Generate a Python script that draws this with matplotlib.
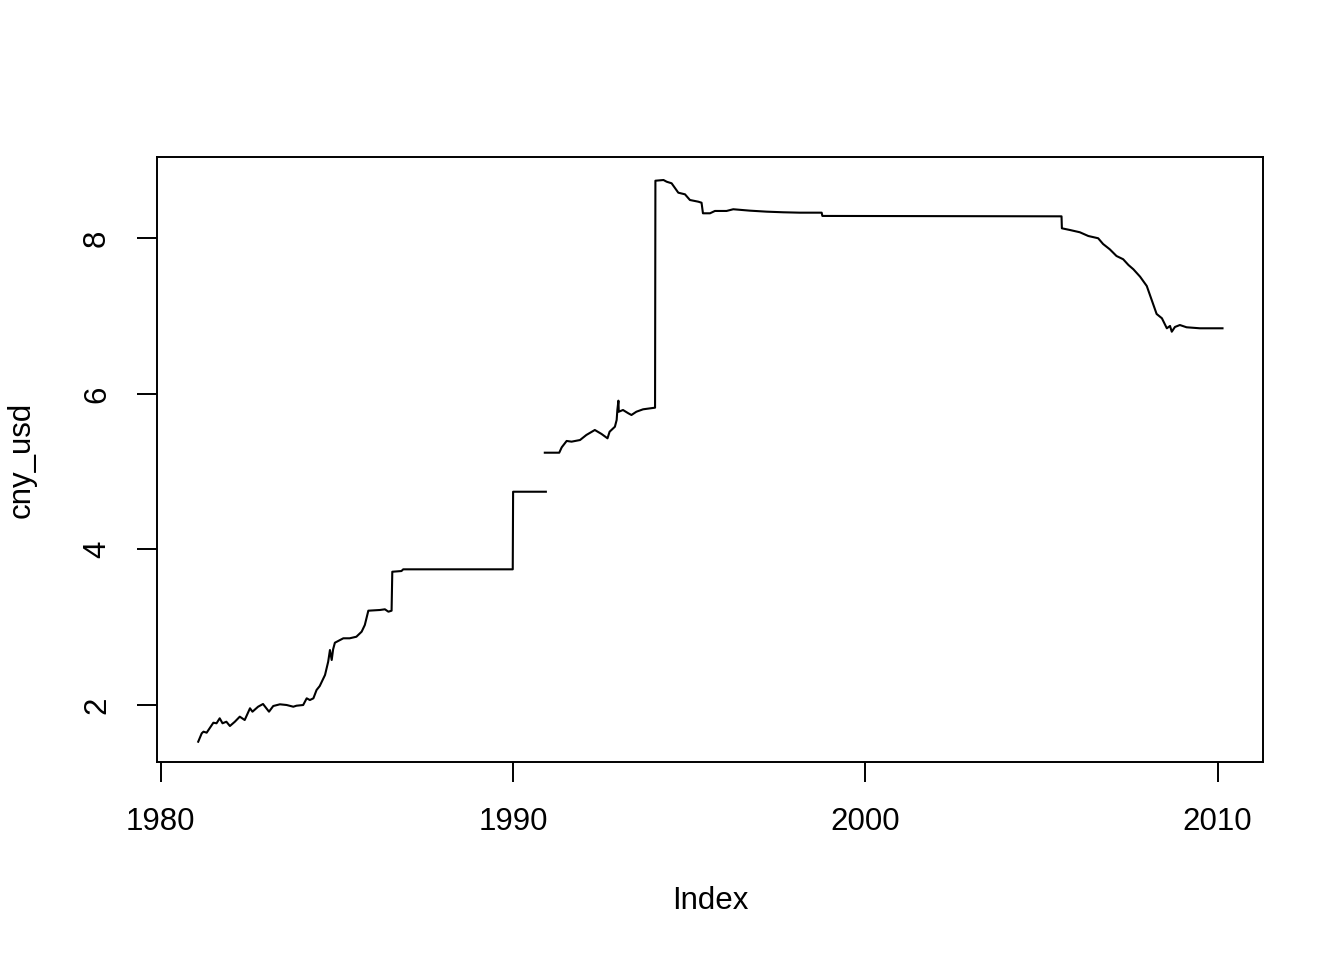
import numpy as np
import matplotlib
matplotlib.use("Agg")
import matplotlib.pyplot as plt

# values (NaN marks the gap in the series)
years = [1981.06, 1981.16, 1981.21, 1981.30, 1981.49, 1981.58, 1981.67, 1981.75,
         1981.86, 1981.96, 1982.10, 1982.24, 1982.38, 1982.53, 1982.60, 1982.76,
         1982.90, 1983.07, 1983.19, 1983.38, 1983.57, 1983.76, 1983.85, 1984.04,
         1984.14, 1984.23, 1984.33, 1984.42, 1984.51, 1984.66, 1984.75, 1984.80,
         1984.85, 1984.89, 1984.94, 1985.18, 1985.36, 1985.55, 1985.70, 1985.79,
         1985.89, 1986.22, 1986.36, 1986.46, 1986.55, 1986.57, 1986.83, 1986.88,
         1989.99, 1990.00, 1990.93, np.nan,
         1990.90, 1991.31, 1991.38, 1991.52, 1991.66, 1991.90, 1992.08, 1992.32,
         1992.51, 1992.68, 1992.74, 1992.89, 1992.94, 1992.96, 1992.99, 1993.00,
         1993.12, 1993.27, 1993.36, 1993.50, 1993.69, 1994.03, 1994.04, 1994.27,
         1994.36, 1994.50, 1994.69, 1994.88, 1995.02, 1995.26, 1995.35, 1995.39,
         1995.59, 1995.73, 1996.06, 1996.25, 1996.72, 1997.20, 1997.67, 1998.14,
         1998.76, 1998.78, 2005.57, 2005.58, 2005.81, 2006.09, 2006.33, 2006.61,
         2006.75, 2006.94, 2007.13, 2007.32, 2007.47, 2007.61, 2007.80, 2007.99,
         2008.13, 2008.27, 2008.42, 2008.56, 2008.65, 2008.70, 2008.79, 2008.93,
         2009.12, 2009.50, 2010.14]
cny_usd = [1.528, 1.636, 1.657, 1.644, 1.772, 1.765, 1.829, 1.765,
           1.785, 1.730, 1.785, 1.850, 1.807, 1.958, 1.914, 1.978,
           2.013, 1.914, 1.987, 2.009, 2.000, 1.978, 1.991, 2.000,
           2.086, 2.064, 2.086, 2.193, 2.244, 2.386, 2.557, 2.707,
           2.579, 2.716, 2.801, 2.858, 2.858, 2.878, 2.943, 3.029,
           3.213, 3.222, 3.231, 3.200, 3.213, 3.714, 3.723, 3.745,
           3.745, 4.743, 4.743, np.nan,
           5.245, 5.245, 5.314, 5.396, 5.387, 5.408, 5.473, 5.537,
           5.486, 5.430, 5.515, 5.579, 5.666, 5.794, 5.914, 5.772,
           5.794, 5.752, 5.730, 5.772, 5.803, 5.824, 8.743, 8.752,
           8.730, 8.710, 8.589, 8.568, 8.495, 8.473, 8.460, 8.324,
           8.324, 8.354, 8.354, 8.376, 8.358, 8.345, 8.337, 8.332,
           8.332, 8.290, 8.285, 8.131, 8.109, 8.080, 8.032, 8.003,
           7.929, 7.861, 7.775, 7.733, 7.659, 7.604, 7.509, 7.389,
           7.209, 7.029, 6.974, 6.845, 6.875, 6.801, 6.862, 6.887,
           6.858, 6.845, 6.845]
x_ticks = [1980, 1990, 2000, 2010]
y_ticks = [2, 4, 6, 8]

plt.rcParams['font.family'] = ['Liberation Sans', 'DejaVu Sans']

fig = plt.figure(figsize=(13.44, 9.6), dpi=100)
# axes placed like R's default plot region
ax = fig.add_axes([157/1344, 1 - 762/960, 1106/1344, 605/960])

ax.plot(years, cny_usd, color='black', linewidth=1.5)

ax.set_xlim(1979.89, 2011.29)
ax.set_ylim(1.267, 9.048)
ax.set_xticks(x_ticks)
ax.set_yticks(y_ticks)

for s in ax.spines.values():
    s.set_linewidth(1.4)
ax.tick_params(direction='out', length=14.4, width=1.4, labelsize=22.5, pad=18)
plt.setp(ax.get_yticklabels(), rotation=90, va='center')

ax.set_xlabel('Index', fontsize=22.5)
ax.set_ylabel('cny_usd', fontsize=22.5)
ax.xaxis.set_label_coords(0.5, -0.205)
ax.yaxis.set_label_coords(-0.109, 0.5)

plt.savefig('out.png', dpi=100)
